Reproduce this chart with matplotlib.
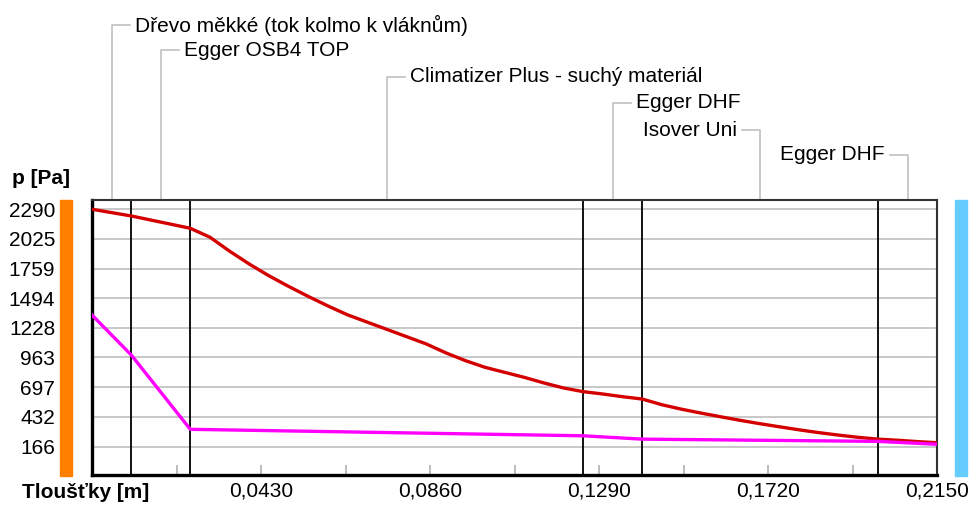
import numpy as np
import matplotlib.pyplot as plt
from matplotlib.patches import Rectangle
from matplotlib.transforms import blended_transform_factory, offset_copy

plt.rcParams['font.family'] = ['Liberation Sans', 'DejaVu Sans']

# skladba konstrukce (tloušťky vrstev v m)
layer_names = ['Dřevo měkké (tok kolmo k vláknům)', 'Egger OSB4 TOP',
               'Climatizer Plus - suchý materiál', 'Egger DHF', 'Isover Uni', 'Egger DHF']
layer_d = [0.010, 0.015, 0.100, 0.015, 0.060, 0.015]

# nasycený tlak vodní páry
x_psat = [0.0, 0.010, 0.025, 0.030, 0.035, 0.040, 0.045, 0.050, 0.055, 0.060,
          0.065, 0.070, 0.075, 0.080, 0.085, 0.090, 0.095, 0.100, 0.105, 0.110,
          0.115, 0.120, 0.125, 0.130, 0.135, 0.140, 0.145, 0.150, 0.155, 0.160,
          0.165, 0.170, 0.175, 0.180, 0.185, 0.190, 0.195, 0.200, 0.205, 0.210, 0.215]
p_sat = [2290, 2230, 2120, 2040, 1915, 1800, 1695, 1600, 1510, 1425,
         1345, 1280, 1215, 1150, 1085, 1005, 935, 875, 830, 785,
         735, 690, 657, 636, 612, 591, 540, 500, 465, 432,
         400, 370, 342, 315, 290, 268, 248, 232, 222, 210, 200]

# částečný tlak vodní páry
x_p = [0.0, 0.010, 0.025, 0.125, 0.140, 0.200, 0.215]
p_part = [1343, 985, 320, 262, 232, 212, 186]

y_ticks = [166, 432, 697, 963, 1228, 1494, 1759, 2025, 2290]
x_ticks = [0.043, 0.086, 0.129, 0.172, 0.215]
x_ticklabels = ['0,0430', '0,0860', '0,1290', '0,1720', '0,2150']
x_minor = [0.0215, 0.0645, 0.1075, 0.1505, 0.1935]

# výšky popisků vrstev (px od horního okraje) a strana textu
label_ypix = [25, 50, 77, 103, 130, 155]
label_side = ['r', 'r', 'r', 'r', 'l', 'l']

W, H = 971, 507
fig = plt.figure(figsize=(W / 100, H / 100), dpi=100)
L, R, T, B = 92, 937, 200, 475
ax = fig.add_axes([L / W, 1 - B / H, (R - L) / W, (B - T) / H])

ax.set_xlim(0, sum(layer_d))
ax.set_ylim(-89, 2373)

ax.set_yticks(y_ticks)
ax.set_yticklabels([str(v) for v in y_ticks])
ax.grid(axis='y', color='#c8c8c8', lw=1.4)
ax.set_axisbelow(True)
ax.tick_params(axis='y', length=0, pad=26.5, labelsize=15)

ax.set_xticks(x_ticks)
ax.set_xticklabels(x_ticklabels)
ax.set_xticks(x_minor, minor=True)
ax.tick_params(axis='x', which='both', direction='in', length=7.5, width=1.1,
               color='#a8a8a8', labelsize=15, pad=5)

for s in ['left', 'bottom']:
    ax.spines[s].set_linewidth(2.4)
    ax.spines[s].set_color('black')
for s in ['top', 'right']:
    ax.spines[s].set_linewidth(1.5)
    ax.spines[s].set_color('#333333')

bounds = np.cumsum([0] + layer_d)
for b in bounds[1:-1]:
    ax.axvline(b, color='#111111', lw=1.4, zorder=2)

ax.plot(x_psat, p_sat, color='#d40000', lw=2.4, zorder=3)
ax.plot(x_p, p_part, color='#ff00ff', lw=2.4, zorder=3)

# popisky vrstev s vodícími čarami
blend = blended_transform_factory(ax.transData, ax.transAxes)
hook = 18 * sum(layer_d) / (R - L)
for i, name in enumerate(layer_names):
    xm = (bounds[i] + bounds[i + 1]) / 2
    yl = (B - label_ypix[i]) / (B - T)
    sgn = 1 if label_side[i] == 'r' else -1
    ax.plot([xm, xm, xm + sgn * hook], [1, yl, yl], color='#c0c0c0', lw=1.2,
            transform=blend, clip_on=False)
    tr = offset_copy(blend, fig=fig, x=sgn * 23, y=0, units='dots')
    ax.text(xm, yl, name, transform=tr, fontsize=15, va='center',
            ha='left' if sgn > 0 else 'right')

fig.text(12 / W, 1 - 178 / H, 'p [Pa]', fontsize=15, fontweight='bold', va='center')
fig.text(22 / W, 1 - 493 / H, 'Tloušťky [m]', fontsize=15, fontweight='bold', va='center')

# barevné pruhy interiér / exteriér
fig.patches.append(Rectangle((60 / W, 1 - 476 / H), 12 / W, 276 / H,
                             transform=fig.transFigure, color='#ff8000', figure=fig))
fig.patches.append(Rectangle((955 / W, 1 - 476 / H), 12 / W, 276 / H,
                             transform=fig.transFigure, color='#66ccff', figure=fig))

fig.savefig('out.png', dpi=100)
